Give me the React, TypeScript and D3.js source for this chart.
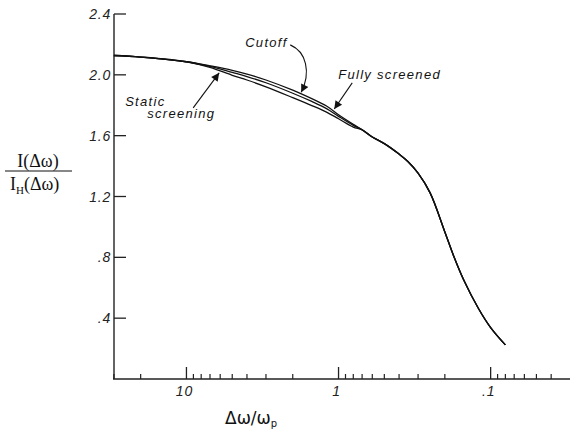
import React from "react";
import * as d3 from "d3";

// Shared x values (Δω/ωp), decreasing
const xFront = [30, 20, 10];
const yFront = [2.127, 2.117, 2.086];

const xSplit = [7, 5, 4, 3, 2, 1.5, 1.2, 1, 0.8, 0.7];
const fullyScreened = [2.059, 2.03, 2.005, 1.966, 1.899, 1.843, 1.795, 1.737, 1.674, 1.639];
const cutoff = [2.055, 2.016, 1.989, 1.948, 1.879, 1.825, 1.778, 1.727, 1.668, 1.639];
const staticScreening = [2.049, 1.997, 1.966, 1.921, 1.85, 1.798, 1.755, 1.711, 1.656, 1.638];

const xTail = [0.6, 0.5, 0.4, 0.35, 0.3, 0.25, 0.2, 0.175, 0.15, 0.12, 0.1, 0.08];
const yTail = [1.591, 1.548, 1.479, 1.43, 1.353, 1.224, 0.967, 0.809, 0.649, 0.462, 0.338, 0.224];

const yTicks = [0.4, 0.8, 1.2, 1.6, 2.0, 2.4];
const yTickLabels = [".4", ".8", "1.2", "1.6", "2.0", "2.4"];
const xMajor = [10, 1, 0.1];
const xMajorLabels = ["10", "1", ".1"];

const W = 570;
const H = 445;

export default function App() {
  const x = d3.scaleLog().domain([30.4, 0.031]).range([113, 568]);
  const y = d3.scaleLinear().domain([0, 2.4]).range([379, 14]);

  const build = (mid: number[]) => {
    const pts: [number, number][] = [];
    xFront.forEach((v, i) => pts.push([v, yFront[i]]));
    xSplit.forEach((v, i) => pts.push([v, mid[i]]));
    xTail.forEach((v, i) => pts.push([v, yTail[i]]));
    return pts;
  };
  const line = d3
    .line<[number, number]>()
    .x((d) => x(d[0]))
    .y((d) => y(d[1]))
    .curve(d3.curveCatmullRom.alpha(0.5));

  const series = [fullyScreened, cutoff, staticScreening];

  // minor ticks
  const minor: number[] = [];
  for (let k = -2; k <= 1; k++) {
    for (let m = 2; m <= 9; m++) {
      const v = m * Math.pow(10, k);
      if (v < 30.4 && v > 0.031) minor.push(v);
    }
  }

  const annoFont = {
    fontFamily: "'Liberation Sans', Arial, sans-serif",
    fontStyle: "italic" as const,
    fontSize: 13,
    letterSpacing: 1.3,
  };

  const P = (v: number, val: number) => `${x(v)},${y(val)}`;

  return (
    <svg
      width={W}
      height={H}
      style={{ position: "absolute", left: 0, top: 0, background: "#fff" }}
    >
      <defs>
        <marker
          id="ah"
          viewBox="0 0 10 10"
          refX="10"
          refY="5"
          markerWidth="11"
          markerHeight="8"
          markerUnits="userSpaceOnUse"
          orient="auto"
        >
          <path d="M0,0 L10,5 L0,10 z" fill="#111" />
        </marker>
      </defs>
      <rect width={W} height={H} fill="#fff" />
      {/* axes */}
      <line x1={114} x2={114} y1={y(2.4)} y2={y(0)} stroke="#222" strokeWidth={1.4} />
      <line x1={113} x2={570} y1={y(0)} y2={y(0)} stroke="#222" strokeWidth={1.4} />
      {yTicks.map((t, i) => (
        <g key={t}>
          <line x1={114} x2={126} y1={y(t)} y2={y(t)} stroke="#222" strokeWidth={1.3} />
          <text
            x={111}
            y={y(t) + 5}
            textAnchor="end"
            {...annoFont}
            letterSpacing={0.8}
            fontSize={14}
            fill="#222"
          >
            {yTickLabels[i]}
          </text>
        </g>
      ))}
      {xMajor.map((t, i) => (
        <g key={t}>
          <line x1={x(t)} x2={x(t)} y1={y(0)} y2={y(0) - 12} stroke="#222" strokeWidth={1.3} />
          <text
            x={x(t) - 2}
            y={y(0) + 17}
            textAnchor="middle"
            {...annoFont}
            fontSize={14}
            letterSpacing={0.8}
            fill="#222"
          >
            {xMajorLabels[i]}
          </text>
        </g>
      ))}
      {minor.map((t) => (
        <line key={t} x1={x(t)} x2={x(t)} y1={y(0)} y2={y(0) - 5} stroke="#222" strokeWidth={1.2} />
      ))}
      {/* curves */}
      {series.map((s, i) => (
        <path key={i} d={line(build(s)) || ""} fill="none" stroke="#111" strokeWidth={1.3} />
      ))}
      {/* annotations */}
      <text x={x(4.11)} y={y(2.184)} {...annoFont} fill="#111">Cutoff</text>
      <path
        d={`M${P(2.078, 2.197)} C${P(1.631, 2.151)} ${P(1.512, 2.02)} ${P(1.759, 1.885)}`}
        fill="none"
        stroke="#111"
        strokeWidth={1.1}
        markerEnd="url(#ah)"
      />
      <text x={x(1.005)} y={y(1.974)} {...annoFont} fill="#111">Fully screened</text>
      <line
        x1={x(0.813)}
        y1={y(1.947)}
        x2={x(1.067)}
        y2={y(1.775)}
        stroke="#111"
        strokeWidth={1.1}
        markerEnd="url(#ah)"
      />
      <text x={x(25.3)} y={y(1.796)} {...annoFont} fill="#111">Static</text>
      <text x={x(18.1)} y={y(1.717)} {...annoFont} fill="#111">screening</text>
      <line
        x1={x(9.03)}
        y1={y(1.783)}
        x2={x(6.09)}
        y2={y(2.013)}
        stroke="#111"
        strokeWidth={1.1}
        markerEnd="url(#ah)"
      />
      {/* axis titles */}
      <text x={225} y={424} fontFamily="'DejaVu Sans', sans-serif" fontSize={17} fill="#111">
        Δω/ω<tspan fontSize={10} dy={3}>p</tspan>
      </text>
      <g fontFamily="'Liberation Serif', 'DejaVu Serif', serif" fontSize={18} fill="#111">
        <text x={38} y={167} textAnchor="middle">I(Δω)</text>
        <line x1={5} x2={72} y1={171} y2={171} stroke="#111" strokeWidth={1.2} />
        <text x={10} y={190}>
          I<tspan fontSize={11} dy={4}>H</tspan>
          <tspan dy={-4}>(Δω)</tspan>
        </text>
      </g>
    </svg>
  );
}
